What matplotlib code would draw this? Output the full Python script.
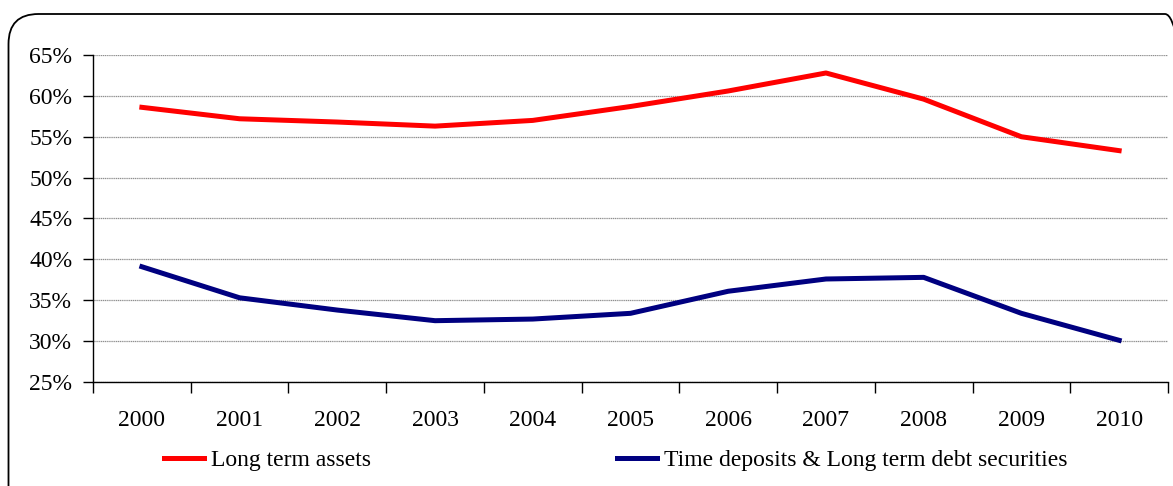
import matplotlib.pyplot as plt
from matplotlib.patches import FancyBboxPatch
from matplotlib.ticker import FixedLocator, PercentFormatter

years = ["2000", "2001", "2002", "2003", "2004", "2005",
         "2006", "2007", "2008", "2009", "2010"]
long_term_assets = [58.6, 57.2, 56.8, 56.3, 57.0, 58.7, 60.6, 62.8, 59.6, 55.0, 53.3]
time_deposits = [39.1, 35.3, 33.8, 32.5, 32.7, 33.4, 36.1, 37.6, 37.8, 33.4, 30.1]

plt.rcParams['font.family'] = ['Liberation Serif', 'DejaVu Serif']

W, H = 1173, 486
fig = plt.figure(figsize=(W / 100, H / 100), dpi=100)

# rounded outer frame (inches), running off the right and bottom edges
frame = FancyBboxPatch((0.085, -0.5), 11.95 - 0.085, (H - 14) / 100 + 0.5,
                       boxstyle="round,pad=0,rounding_size=0.3",
                       transform=fig.dpi_scale_trans, fill=False,
                       edgecolor="black", linewidth=1.3)
fig.patches.append(frame)

ax = fig.add_axes([93 / W, 1 - 382 / H, (1168 - 93) / W, (382 - 55) / H])

x = list(range(len(years)))
ax.plot(x, long_term_assets, color="#ff0000", lw=3.6, label="Long term assets",
        solid_joinstyle="round")
ax.plot(x, time_deposits, color="#000080", lw=3.6,
        label="Time deposits & Long term debt securities", solid_joinstyle="round")

ax.set_xlim(-0.5, len(years) - 0.5)
ax.set_ylim(25, 65)
ax.set_yticks(range(25, 70, 5))
ax.yaxis.set_major_formatter(PercentFormatter(decimals=0))
ax.set_xticks(x)
ax.set_xticklabels(years)
ax.xaxis.set_minor_locator(FixedLocator([i - 0.5 for i in range(len(years) + 1)]))

ax.tick_params(axis="x", which="major", length=0, pad=20, labelsize=17)
ax.tick_params(axis="x", which="minor", length=8, width=1, direction="out")
ax.tick_params(axis="y", length=7, width=1, direction="out", pad=8, labelsize=17)

ax.grid(axis="y", color="#909090", linestyle=(0, (1, 0.5)), linewidth=0.9)
ax.set_axisbelow(True)
for s in ["top", "right"]:
    ax.spines[s].set_visible(False)
for s in ["left", "bottom"]:
    ax.spines[s].set_linewidth(1)

fig.legend(loc="center", bbox_to_anchor=(616 / W, 1 - 460 / H), ncol=2,
           frameon=False, fontsize=17, handlelength=1.7, handletextpad=0.3,
           columnspacing=10.4)

fig.savefig("out.png", dpi=100)
